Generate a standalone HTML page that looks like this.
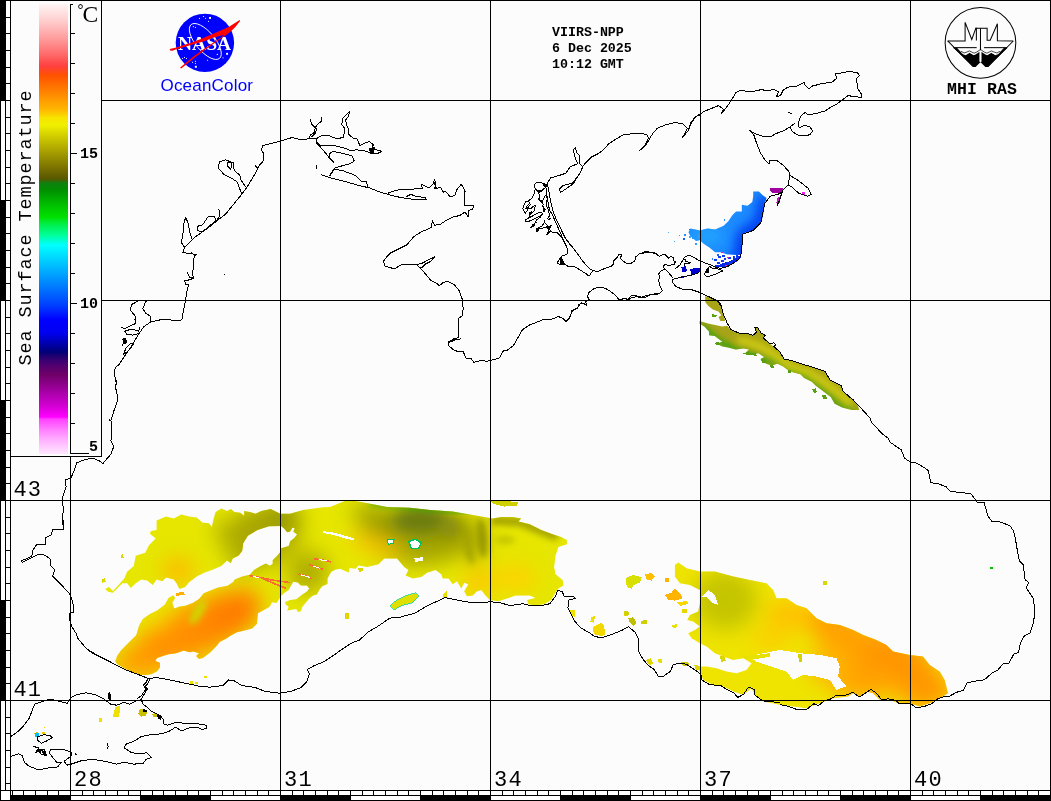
<!DOCTYPE html>
<html><head><meta charset="utf-8"><title>SST</title>
<style>
html,body{margin:0;padding:0;background:#fcfcfc;overflow:hidden}
svg{display:block;position:absolute;left:0;top:0}
text{font-family:"Liberation Mono",monospace;fill:#000}
.sans{font-family:"Liberation Sans",sans-serif}
.serif{font-family:"Liberation Serif",serif}
</style></head><body>
<svg width="1051" height="801" viewBox="0 0 1051 801">
<defs><linearGradient id="lg" x1="0" y1="4" x2="0" y2="454" gradientUnits="userSpaceOnUse"><stop offset="0.0000" stop-color="#fff4f4"/><stop offset="0.0356" stop-color="#ffd0d0"/><stop offset="0.0800" stop-color="#ff9898"/><stop offset="0.1133" stop-color="#ff6868"/><stop offset="0.1378" stop-color="#ff4040"/><stop offset="0.1578" stop-color="#ff5000"/><stop offset="0.2022" stop-color="#ff8c00"/><stop offset="0.2356" stop-color="#ffb800"/><stop offset="0.2533" stop-color="#f8e400"/><stop offset="0.2689" stop-color="#f0f000"/><stop offset="0.2911" stop-color="#d4d000"/><stop offset="0.3244" stop-color="#aca400"/><stop offset="0.3689" stop-color="#746c00"/><stop offset="0.3889" stop-color="#585800"/><stop offset="0.3978" stop-color="#108010"/><stop offset="0.4133" stop-color="#009000"/><stop offset="0.4467" stop-color="#00c000"/><stop offset="0.4733" stop-color="#00e000"/><stop offset="0.4911" stop-color="#00f050"/><stop offset="0.5133" stop-color="#00ff98"/><stop offset="0.5356" stop-color="#00ffff"/><stop offset="0.5689" stop-color="#00d0ff"/><stop offset="0.6022" stop-color="#00a0ff"/><stop offset="0.6356" stop-color="#0070ff"/><stop offset="0.6689" stop-color="#0040ff"/><stop offset="0.7022" stop-color="#0000ff"/><stop offset="0.7311" stop-color="#0000f0"/><stop offset="0.7533" stop-color="#0000b0"/><stop offset="0.7733" stop-color="#000078"/><stop offset="0.7822" stop-color="#200070"/><stop offset="0.8022" stop-color="#500070"/><stop offset="0.8244" stop-color="#700068"/><stop offset="0.8578" stop-color="#a000a0"/><stop offset="0.8911" stop-color="#d000d0"/><stop offset="0.9178" stop-color="#ff00ff"/><stop offset="0.9222" stop-color="#ff40ff"/><stop offset="0.9467" stop-color="#ff80ff"/><stop offset="0.9689" stop-color="#ffb0ff"/><stop offset="0.9911" stop-color="#ffd8ff"/><stop offset="1.0000" stop-color="#ffe8ff"/></linearGradient></defs>
<rect x="0" y="0" width="1051" height="801" fill="#fcfcfc"/>
<g id="sst" shape-rendering="crispEdges">
<defs>
<filter id="b6" x="-50%" y="-50%" width="200%" height="200%"><feGaussianBlur stdDeviation="6"/></filter>
<filter id="b10" x="-50%" y="-50%" width="200%" height="200%"><feGaussianBlur stdDeviation="10"/></filter>
<filter id="b3" x="-50%" y="-50%" width="200%" height="200%"><feGaussianBlur stdDeviation="3"/></filter>
<clipPath id="csw"><polygon points="105.2,589.0 109.0,587.1 112.8,590.9 118.5,585.1 124.3,578.5 127.1,571.8 133.8,566.1 135.7,555.7 145.2,552.8 149.0,545.2 155.7,538.5 149.9,533.8 150.9,530.9 156.6,530.0 156.6,520.4 166.1,516.6 173.7,518.5 181.3,514.4 189.0,516.6 196.6,517.6 202.3,522.4 208.9,523.3 211.8,527.1 213.7,518.5 215.6,511.9 221.3,508.6 227.0,510.9 230.8,509.0 234.6,511.9 240.3,512.8 244.1,515.7 244.1,510.9 249.8,511.9 255.6,513.8 261.3,510.9 270.8,509.0 280.3,513.8 290.0,513.8 303.1,510.0 323.1,507.3 330.0,507.1 347.1,500.0 358.5,501.4 372.8,504.3 387.1,507.1 409.9,507.7 429.9,510.0 452.7,511.4 472.7,515.1 484.1,517.1 492.7,518.5 501.3,517.1 512.7,517.1 521.2,518.5 518.4,521.4 529.8,524.3 541.2,530.0 552.6,534.2 561.2,537.1 566.9,540.0 566.9,544.2 558.4,547.1 555.5,555.7 554.1,567.1 555.5,574.2 562.6,579.9 563.5,585.6 558.4,588.5 555.5,592.8 551.2,599.9 544.1,604.2 535.5,605.6 528.4,604.2 527.0,599.9 535.5,597.9 529.8,595.6 515.5,595.6 507.0,598.5 498.4,601.3 489.8,599.9 485.6,595.6 481.3,589.9 477.0,591.3 472.7,595.6 467.0,596.2 464.2,591.3 468.4,584.2 464.2,582.8 461.3,588.5 457.0,581.3 452.7,584.2 448.5,578.5 442.7,578.5 441.3,574.2 435.6,569.9 427.1,572.8 421.3,577.1 412.8,578.5 405.6,575.6 408.5,569.9 404.2,567.1 397.1,558.5 384.2,558.5 378.5,564.2 367.1,567.1 358.5,565.6 355.7,568.7 349.6,568.0 348.8,572.5 345.0,571.0 340.5,568.7 335.9,569.5 331.3,571.8 329.1,575.6 327.5,578.6 327.5,583.9 322.2,586.2 319.2,590.0 316.9,594.6 313.1,595.4 309.3,598.4 305.5,603.0 302.4,606.8 300.9,611.3 297.8,612.1 296.3,609.1 291.8,609.8 287.2,610.6 288.7,606.8 285.7,604.5 284.9,602.2 290.2,599.9 296.3,599.2 302.4,594.6 307.0,591.6 309.3,588.5 307.0,585.5 300.9,585.5 297.8,582.4 293.3,581.7 291.0,585.5 288.7,590.0 284.1,593.1 281.1,596.1 278.1,600.7 276.5,603.0 272.0,602.2 269.7,606.8 264.4,609.8 257.9,613.3 257.0,623.8 252.2,628.5 244.6,630.4 237.0,632.3 231.3,635.2 225.6,639.0 219.9,641.8 216.1,646.6 210.4,652.3 206.6,655.2 202.8,658.0 199.0,659.0 196.1,656.1 199.0,653.3 193.2,651.4 189.4,652.3 183.7,650.4 176.1,653.3 168.5,654.2 162.8,656.1 157.1,658.0 155.2,660.9 159.9,662.8 159.9,667.5 157.1,671.3 151.4,674.2 145.7,675.1 140.0,675.1 132.4,672.3 124.7,668.5 118.1,664.7 115.2,661.8 117.1,656.1 120.9,650.4 128.5,642.8 136.2,635.2 139.0,625.7 142.8,619.0 149.5,614.3 157.1,610.4 164.7,604.7 168.5,598.1 173.3,595.2 175.2,598.1 172.3,602.8 174.2,608.5 179.9,606.6 185.6,605.7 193.2,602.8 199.0,599.0 203.7,593.3 210.4,590.5 218.0,587.6 227.5,585.7 233.2,581.9 234.6,579.4 242.2,576.6 249.8,574.7 253.7,570.2 259.8,566.4 265.9,563.4 269.7,565.7 272.7,564.1 272.7,560.3 276.5,556.5 280.3,552.0 281.1,548.2 288.7,545.9 290.2,541.3 294.0,538.3 297.1,534.5 293.3,531.4 294.8,528.4 292.5,527.6 290.2,531.4 287.2,532.2 284.1,528.4 281.1,526.1 268.9,526.2 257.5,530.0 247.9,535.7 243.2,543.3 242.2,550.9 238.4,555.7 232.7,558.5 230.8,563.3 227.0,560.4 221.3,566.1 211.8,569.9 204.2,572.8 196.6,576.6 192.8,579.4 189.0,582.3 185.1,587.1 179.4,589.0 176.6,583.2 173.7,579.4 166.1,577.5 162.3,581.3 156.6,579.4 152.8,585.1 147.1,580.4 141.4,579.4 135.7,583.2 130.9,588.0 127.1,583.2 122.4,583.2 116.6,589.0 112.8,592.8 108.1,591.8"/></clipPath>
<clipPath id="cse"><polygon points="674.9,565.0 678.3,562.6 686.6,568.3 699.9,571.6 714.9,571.6 733.2,576.6 749.9,580.0 766.5,583.3 773.2,590.0 776.5,598.3 786.5,598.3 796.5,604.9 806.5,608.3 816.5,618.3 826.5,623.3 839.8,624.9 853.1,629.9 863.1,634.9 876.4,639.9 886.4,644.9 893.1,651.6 909.7,654.9 923.0,656.6 929.7,664.9 939.7,671.5 944.7,679.9 948.0,693.2 939.7,698.2 929.7,703.2 919.7,706.5 909.7,703.2 898.0,703.2 889.7,699.8 879.7,699.8 873.1,693.2 866.4,691.5 859.8,696.5 853.1,693.2 848.1,696.5 833.1,698.2 819.8,703.2 806.5,708.2 793.1,706.5 779.8,704.8 763.2,701.5 754.9,694.9 751.5,688.2 743.2,694.9 733.2,691.5 723.2,686.5 713.2,684.9 703.2,679.9 699.9,671.5 694.9,666.5 706.6,666.5 716.6,668.2 726.5,671.5 736.5,673.2 746.5,669.9 751.5,663.2 743.2,658.2 733.2,659.9 723.2,656.6 714.9,653.2 706.6,646.6 699.9,643.2 691.6,638.2 688.2,633.2 694.9,629.9 699.9,626.6 693.2,621.6 687.3,619.9 689.9,614.9 698.2,611.6 699.9,603.3 699.9,590.0 689.9,585.0 679.9,583.3 674.9,576.6"/></clipPath>
<clipPath id="cst"><polygon points="705.2,296.2 709.0,297.1 717.6,300.9 721.4,306.6 723.3,314.2 725.2,320.9 720.4,320.9 718.5,317.1 721.4,315.2 718.5,311.4 712.8,309.5 708.1,305.7 705.2,301.9"/><polygon points="699.5,320.9 709.0,323.7 722.4,326.6 727.1,325.7 730.9,329.5 739.5,333.3 747.1,333.3 752.8,335.2 756.6,332.3 754.7,327.6 757.6,327.6 761.4,333.3 765.2,335.2 763.3,338.0 769.9,343.7 779.4,351.3 784.2,359.0 792.8,360.9 804.2,364.7 813.7,367.5 825.1,371.3 829.9,379.9 841.3,385.6 843.2,391.3 851.8,398.9 857.5,404.6 859.4,410.0 851.8,410.0 842.2,407.5 834.6,403.7 830.8,397.0 823.2,391.3 815.6,385.6 811.8,381.8 804.2,378.0 800.4,374.2 792.8,372.3 787.1,369.4 783.2,366.6 777.5,363.7 771.8,365.6 766.1,363.7 760.4,359.0 764.2,357.1 758.5,353.2 752.8,354.2 745.2,353.2 749.0,349.4 743.3,348.5 735.7,349.4 728.1,347.5 722.4,346.6 716.6,343.7 722.4,341.8 714.7,336.1 709.0,335.2 709.0,331.4 704.3,326.6 699.5,323.7"/></clipPath>
<clipPath id="caz"><polygon points="753.2,191.4 758.9,191.4 762.7,195.2 766.5,198.1 764.6,204.7 762.7,217.1 759.9,223.7 753.2,230.4 743.7,233.3 742.7,235.2 741.8,251.3 741.0,255.1 734.2,254.8 726.6,254.2 720.9,252.3 715.1,252.3 709.4,247.5 703.7,243.7 699.9,239.9 696.1,240.9 690.4,236.1 688.5,232.3 690.4,228.5 699.9,230.4 707.5,228.5 715.1,229.5 723.7,225.7 728.5,220.9 732.3,215.2 736.1,211.4 741.8,211.4 741.8,204.7 747.5,205.7 752.3,201.9 753.2,196.2"/></clipPath>
</defs>
<g clip-path="url(#csw)">
<rect x="90" y="495" width="520" height="200" fill="#e6e600"/>
<g filter="url(#b10)">
<ellipse cx="262" cy="535" rx="42" ry="30" fill="#a8a600" transform="rotate(-25 262 535)"/>
<ellipse cx="285" cy="512" rx="14" ry="8" fill="#808800"/>
<ellipse cx="232" cy="548" rx="9" ry="34" fill="#b4b200" transform="rotate(-28 232 548)"/>
<ellipse cx="418" cy="535" rx="58" ry="30" fill="#a6a600"/>
<ellipse cx="422" cy="522" rx="38" ry="15" fill="#7c8808"/>
<ellipse cx="370" cy="513" rx="20" ry="8" fill="#a0a000"/>
<ellipse cx="476" cy="540" rx="9" ry="24" fill="#b0ae00"/>
<ellipse cx="308" cy="572" rx="20" ry="22" fill="#b0ae00" transform="rotate(30 308 572)"/>
<ellipse cx="185" cy="635" rx="70" ry="26" fill="#ffa400" transform="rotate(-30 185 635)"/>
<ellipse cx="215" cy="622" rx="52" ry="24" fill="#ff8800" transform="rotate(-30 215 622)"/>
<ellipse cx="235" cy="614" rx="22" ry="18" fill="#ff7c00"/>
<ellipse cx="165" cy="645" rx="36" ry="18" fill="#ff9000" transform="rotate(-30 165 645)"/>
<ellipse cx="140" cy="663" rx="26" ry="14" fill="#ff9c00"/>
<ellipse cx="155" cy="620" rx="10" ry="8" fill="#f4dc00"/>
<ellipse cx="178" cy="570" rx="16" ry="12" fill="#ffb800"/>
<ellipse cx="375" cy="545" rx="28" ry="7" fill="#ffc400" transform="rotate(15 375 545)"/>
<ellipse cx="478" cy="582" rx="14" ry="12" fill="#ffc400"/>
<ellipse cx="515" cy="578" rx="22" ry="12" fill="#ffd000"/>
</g>
<g filter="url(#b3)"><ellipse cx="198" cy="612" rx="5" ry="14" fill="#d0d400" transform="rotate(32 198 612)"/>
<polyline points="491,520 520,522 535,528 558,537" stroke="#a4a400" stroke-width="9" fill="none"/>
<ellipse cx="468" cy="545" rx="4" ry="20" fill="#a4a400" transform="rotate(-12 468 545)"/>
<ellipse cx="482" cy="538" rx="5" ry="20" fill="#989800" transform="rotate(-5 482 538)"/>
<ellipse cx="505" cy="540" rx="10" ry="4" fill="#c4c400"/>
</g>
<g filter="url(#b6)"><ellipse cx="420" cy="520" rx="24" ry="9" fill="#6c7c10"/><ellipse cx="450" cy="528" rx="10" ry="10" fill="#8c9008"/></g>
<g filter="url(#b3)"><polyline points="370,503 420,508 470,511" stroke="#00a000" stroke-width="3" fill="none"/></g>
</g>
<polygon points="408.5,541.4 415.6,539.1 421.3,542.8 418.5,548.5 411.4,548.5" fill="#fcfcfc" stroke="#00c060" stroke-width="1.5"/>
<polygon points="414.2,558.5 422.8,557.1 422.8,560.8 415.6,561.9" fill="#fcfcfc"/>
<polygon points="387.1,540.0 394.2,539.1 393.4,543.7 388.5,544.2" fill="#fcfcfc" stroke="#00c060" stroke-width="1"/>
<polygon points="323.0,531.0 331.3,532.2 343.5,535.2 354.2,538.6 354.5,540.1 346.6,539.0 334.4,535.2 323.4,532.9" fill="#fcfcfc"/>
<polyline points="313.8,558.8 322.2,559.9 331.3,561.9" stroke="#ff6a30" stroke-width="1.6" fill="none"/>
<polyline points="309.3,564.9 316.1,566.9 323.0,569.5" stroke="#ff6a30" stroke-width="1.6" fill="none"/>
<polyline points="298.6,574.0 305.5,575.6 311.6,578.6" stroke="#ff6a30" stroke-width="1.6" fill="none"/>
<polyline points="249.1,575.6 258.3,577.1 270.4,579.7 290.2,582.7" stroke="#ff6a30" stroke-width="1.6" fill="none"/>
<polyline points="262.8,578.6 275.0,583.9 285.7,588.2" stroke="#ff6a30" stroke-width="1.6" fill="none"/>
<polyline points="319.2,559.6 326.8,560.8" stroke="#fcfcfc" stroke-width="1.2" fill="none"/>
<polyline points="313.1,566.1 319.9,568.3" stroke="#fcfcfc" stroke-width="1.2" fill="none"/>
<polyline points="300.9,574.8 310.0,577.5" stroke="#fcfcfc" stroke-width="1.2" fill="none"/>
<polyline points="252.9,576.6 259.0,577.5" stroke="#fcfcfc" stroke-width="1.2" fill="none"/>
<polygon points="489.8,500.0 501.3,500.8 518.4,502.0 517.0,505.7 504.1,506.6 492.7,503.7" fill="#d0d000"/>
<polygon points="389.9,605.6 397.1,599.9 405.6,595.6 415.6,592.8 419.1,596.2 412.8,602.7 401.4,605.6 394.2,609.9" fill="#e0e000" stroke="#00d0a0" stroke-width="0.7"/>
<rect x="345" y="613" width="4" height="6" fill="#e0d000"/>
<polygon points="442.7,594.2 446.5,591.3 447.6,597.9 443.6,598.5" fill="#e8e000"/>
<polygon points="569.8,609.9 574.9,609.9 574.9,617.0 571.2,615.6" fill="#f0e000"/>
<polygon points="591.2,617.0 594.9,615.6 594.0,622.7 590.3,621.9" fill="#f0e000"/>
<polygon points="592.6,627.0 601.2,622.7 605.5,631.3 601.2,636.1 594.0,634.1" fill="#f4d800"/>
<polygon points="625.4,578.5 630.0,578.5 630.0,588.5 626.9,587.1" fill="#e8e000"/>
<polygon points="624.0,611.3 628.3,612.2 627.4,616.2 624.0,615.6" fill="#e0d800"/>
<polygon points="101.7,579.2 105.0,578.2 105.7,581.6 102.3,582.6" fill="#d8d800"/>
<polygon points="120.6,554.9 123.3,554.3 123.6,557.9 121.0,558.6" fill="#d8d800"/>
<polygon points="175.9,593.2 183.9,591.6 184.6,594.6 176.6,595.9" fill="#ffb000"/>
<polygon points="358.1,568.3 362.4,567.3 363.1,570.9 359.1,571.9" fill="#d8d800"/>
<polygon points="345.8,614.9 349.1,613.9 349.4,619.2 346.4,619.2" fill="#e0d800"/>
<g clip-path="url(#cse)">
<rect x="660" y="555" width="300" height="160" fill="#efe400"/>
<g filter="url(#b10)">
<ellipse cx="725" cy="600" rx="32" ry="30" fill="#c4c400"/>
<ellipse cx="890" cy="660" rx="55" ry="26" fill="#ff9400" transform="rotate(28 890 660)"/>
<ellipse cx="840" cy="630" rx="40" ry="20" fill="#ffa000" transform="rotate(28 840 630)"/>
<ellipse cx="925" cy="690" rx="28" ry="18" fill="#ff9800"/>
<ellipse cx="865" cy="682" rx="36" ry="16" fill="#ffa200"/>
<ellipse cx="830" cy="665" rx="22" ry="18" fill="#ffb400"/>
<ellipse cx="790" cy="615" rx="25" ry="14" fill="#ffc000"/>
<ellipse cx="770" cy="640" rx="20" ry="8" fill="#ffc800"/>
</g>
</g>
<polygon points="754.9,654.9 766.5,652.6 779.8,649.9 799.8,653.2 819.8,654.9 836.4,658.2 839.8,666.5 838.1,676.5 846.4,686.5 836.4,689.9 829.8,679.9 816.5,676.5 803.1,674.9 793.1,679.9 786.5,671.5 776.5,668.2 766.5,664.9 756.5,661.6 751.5,658.2" fill="#fcfcfc"/>
<polygon points="708.2,590.0 714.9,594.9 718.2,604.9 713.2,603.3 706.6,597.3 701.6,596.6" fill="#fcfcfc"/>
<polygon points="798.1,653.9 802.1,653.9 802.5,662.5 798.8,661.6" fill="#d8d000"/>
<polygon points="741.5,656.6 756.5,654.9 769.8,653.2 770.5,656.6 758.2,658.6 746.5,659.2" fill="#e8e000"/>
<polygon points="719.2,656.6 723.9,655.9 725.9,660.6 721.6,661.9" fill="#d8d800"/>
<polygon points="626.6,577.3 633.3,575.0 641.6,577.3 640.0,582.6 633.3,585.0 631.6,589.3 629.3,586.6 626.0,580.6" fill="#d8e000"/>
<polygon points="645.0,574.6 651.6,572.6 654.9,576.6 651.6,580.6 646.6,579.3" fill="#ffc000"/>
<polygon points="664.9,594.9 671.6,592.6 674.9,588.3 679.9,593.3 682.6,598.3 674.9,600.6 668.3,599.9" fill="#ffb400"/>
<polygon points="676.6,602.6 687.3,600.9 688.2,603.9 679.9,605.9" fill="#f8d800"/>
<polygon points="665.3,578.3 669.3,578.3 669.3,581.6 665.3,581.6" fill="#ffb400"/>
<polygon points="681.6,609.3 686.6,609.3 686.6,613.3 682.3,613.3" fill="#e8d800"/>
<polygon points="624.0,611.6 628.3,610.9 629.0,614.9 625.0,615.6" fill="#d0d000"/>
<polygon points="628.3,618.3 633.3,617.3 636.6,623.3 633.3,625.9 629.3,622.3" fill="#c0c000"/>
<polygon points="640.6,620.9 646.6,619.9 647.6,623.3 641.6,624.6" fill="#d0d000"/>
<polygon points="600.0,623.3 604.0,624.9 605.0,634.9 600.0,636.6" fill="#f0d800"/>
<polygon points="646.0,659.9 650.6,658.2 653.3,663.2 649.3,665.9" fill="#e0d800"/>
<polygon points="658.3,659.2 661.9,659.2 661.9,663.2 658.6,663.2" fill="#e8e000"/>
<polygon points="680.9,662.5 688.2,661.9 689.2,665.2 683.3,665.9" fill="#d0c800"/>
<polygon points="822.8,581.3 826.8,581.3 826.8,584.6 822.8,584.6" fill="#d8d800"/>
<polygon points="671.9,624.9 676.6,624.3 677.3,627.3 672.6,627.9" fill="#e8e000"/>
<polygon points="694.2,664.9 699.9,665.9 700.6,670.5 695.9,669.9" fill="#e0d800"/>
<g clip-path="url(#cst)">
<rect x="695" y="290" width="180" height="125" fill="#a8a418"/>
<g filter="url(#b3)">
<polyline points="701.4,325.7 716.6,339.9 728.1,346.6 745.2,352.3 760.4,358.0 777.5,363.1 792.8,371.9 804.2,377.6 815.6,385.2 830.8,397.0 842.2,406.9 853.7,410.3" stroke="#20a010" stroke-width="5" fill="none"/>
<polyline points="737.6,339.9 756.6,344.7 771.8,353.2 789.0,365.6 808.0,372.3 823.2,381.8 838.4,393.2 851.8,404.6" stroke="#d0cc10" stroke-width="7" fill="none"/>
</g>
</g>
<polygon points="714.7,342.8 718.5,341.8 720.4,344.7 716.6,345.6" fill="#58a010"/>
<polygon points="742.3,353.2 747.1,352.3 755.7,353.2 756.6,355.7 747.1,355.1" fill="#58a010"/>
<polygon points="760.4,359.0 764.2,358.6 766.1,362.8 762.3,362.8" fill="#58a010"/>
<polygon points="769.9,365.0 773.3,364.7 773.7,367.5 770.9,368.1" fill="#58a010"/>
<polygon points="811.8,389.0 815.6,388.4 817.1,392.3 813.7,392.8" fill="#58a010"/>
<polygon points="821.3,394.7 825.5,394.7 827.4,398.5 823.2,398.5" fill="#58a010"/>
<polygon points="711.9,314.2 716.6,314.8 716.3,317.1 712.5,316.7" fill="#58a010"/>
<polygon points="788.0,370.4 790.9,370.4 790.9,372.7 788.4,372.7" fill="#58a010"/>
<g clip-path="url(#caz)">
<rect x="680" y="185" width="100" height="90" fill="#1c8cff"/>
<g filter="url(#b6)">
<polyline points="765.6,197.1 763.1,217.1 757.0,227.6 745.6,233.3 741.8,241.8 741.8,259.0 726.6,266.6" stroke="#0038f0" stroke-width="14" fill="none"/>
<ellipse cx="707" cy="236" rx="16" ry="8" fill="#20a4ff"/>
</g>
</g>
<rect x="717.1" y="254.2" width="1.9" height="1.9" fill="#1c60ff"/>
<rect x="722.8" y="255.1" width="1.9" height="2.0" fill="#1050ff"/>
<rect x="721.8" y="259.9" width="1.9" height="1.9" fill="#1040f0"/>
<rect x="715.0" y="264.5" width="2.2" height="2.3" fill="#0020e0"/>
<rect x="728.5" y="261.8" width="1.9" height="1.9" fill="#0030f0"/>
<rect x="733.2" y="258.0" width="1.9" height="1.9" fill="#0838f0"/>
<rect x="737.0" y="256.1" width="1.9" height="1.9" fill="#0838f0"/>
<rect x="711.7" y="258.4" width="1.2" height="1.1" fill="#2080ff"/>
<rect x="707.1" y="258.5" width="0.9" height="0.9" fill="#30a0ff"/>
<rect x="683.7" y="234.2" width="2.0" height="1.9" fill="#2090ff"/>
<rect x="678.6" y="234.8" width="1.5" height="1.5" fill="#30a0ff"/>
<rect x="683.0" y="238.2" width="1.5" height="1.5" fill="#1060ff"/>
<rect x="692.3" y="237.1" width="1.9" height="1.9" fill="#2898ff"/>
<rect x="689.3" y="236.3" width="1.5" height="1.5" fill="#38a8ff"/>
<rect x="688.7" y="228.7" width="1.5" height="1.5" fill="#8040c0"/>
<rect x="673.8" y="241.0" width="0.9" height="0.9" fill="#40b0ff"/>
<rect x="670.6" y="235.2" width="0.8" height="0.7" fill="#40b0ff"/>
<rect x="668.1" y="231.9" width="0.8" height="0.8" fill="#40b0ff"/>
<rect x="687.2" y="247.5" width="0.7" height="0.8" fill="#40b0ff"/>
<rect x="723.9" y="219.2" width="1.5" height="1.5" fill="#2890ff"/>
<rect x="734.4" y="212.5" width="1.5" height="1.5" fill="#2890ff"/>
<rect x="695.4" y="243.0" width="1.5" height="1.5" fill="#30a0ff"/>
<rect x="698.2" y="236.3" width="1.5" height="1.5" fill="#30a0ff"/>
<polygon points="715.7,265.3 720.4,264.5 723.3,263.1 729.0,261.5 732.8,259.9 735.6,258.3 739.9,255.5 741.5,257.1 738.5,260.5 733.7,263.5 728.0,266.2 721.4,267.4 716.6,266.9" fill="#0828e8"/>
<rect x="722.0" y="254.9" width="2.5" height="2.5" fill="#1038f0"/>
<rect x="714.4" y="258.7" width="2.5" height="2.5" fill="#1038f0"/>
<rect x="721.1" y="259.6" width="2.5" height="2.5" fill="#1038f0"/>
<rect x="728.2" y="256.6" width="2.5" height="2.5" fill="#1038f0"/>
<rect x="723.9" y="257.5" width="2.5" height="2.5" fill="#1038f0"/>
<rect x="718.2" y="255.6" width="2.5" height="2.5" fill="#1038f0"/>
<rect x="732.5" y="255.5" width="2.5" height="2.5" fill="#1038f0"/>
<rect x="729.2" y="262.3" width="2.5" height="2.5" fill="#1038f0"/>
<rect x="717.3" y="261.8" width="2.5" height="2.5" fill="#1038f0"/>
<rect x="735.8" y="255.2" width="2.5" height="2.5" fill="#1038f0"/>
<rect x="720.6" y="252.1" width="2" height="1" fill="#e020c0"/>
<rect x="727.3" y="256.6" width="2" height="1" fill="#e020c0"/>
<rect x="725.4" y="264.8" width="2" height="1" fill="#e020c0"/>
<polygon points="770.3,188.5 782.7,188.2 783.3,190.8 780.8,192.7 772.2,192.7 770.0,190.8" fill="#a000a0"/>
<polygon points="777.6,197.1 780.2,197.1 779.5,202.8 777.2,206.1 776.4,202.8" fill="#d010d0"/>
<rect x="802" y="192" width="3" height="3" fill="#f020f0"/>
<polygon points="681.3,267.5 685.7,265.6 687.0,271.3 682.8,272.7" fill="#0000d0"/>
<polygon points="690.4,269.4 695.2,267.5 699.9,267.5 699.9,272.3 695.2,273.8 690.8,275.1" fill="#0000d0"/>
<polygon points="680.9,276.1 683.7,275.5 683.7,277.6 681.3,278.0" fill="#0000d0"/>
<rect x="990" y="567" width="3" height="2" fill="#00c000"/>
<polygon points="115.6,707.1 119.4,705.2 120.0,710.9 118.5,716.6 112.8,717.6 113.7,712.8" fill="#f0e000"/>
<polygon points="99.1,718.5 101.9,718.1 101.9,721.6 99.1,721.6" fill="#f0e000"/>
<polygon points="139.0,709.9 143.2,708.6 147.0,711.3 146.1,715.7 141.3,716.6 138.4,713.7" fill="#c8c000"/>
<polygon points="152.3,713.7 156.9,713.2 157.7,716.6 153.1,717.4" fill="#c8c000"/>
<polygon points="34.4,732.8 38.2,732.2 38.2,736.6 34.7,737.2" fill="#e0c800"/>
<polygon points="42.0,732.2 44.6,732.2 44.6,734.1 42.0,734.1" fill="#e0d000"/>
<polygon points="189.8,681.4 193.1,681.4 193.1,684.3 190.2,684.3" fill="#f0e000"/>
<polygon points="195.0,682.0 198.0,682.0 198.0,684.3 195.3,684.3" fill="#f0e000"/>
<polygon points="203.7,675.7 206.8,675.7 206.8,677.8 204.1,677.8" fill="#f0e000"/>
<polygon points="43.9,726.9 45.0,726.9 45.0,728.0 43.9,728.0" fill="#f0e000"/>
<rect x="35" y="733" width="4" height="4" fill="#00c0ff"/>
</g>
<g id="coast" stroke="#000" stroke-width="1" fill="none" stroke-linejoin="round" shape-rendering="crispEdges">
<polyline points="300.0,139.4 292.2,137.5 280.8,140.9 271.3,143.4 262.7,145.7 261.4,149.9 264.0,154.2 263.7,160.5 258.3,166.6 257.0,170.4 250.3,181.8 246.5,187.9 241.8,194.2 233.2,204.7 225.6,214.2 218.0,219.9 206.6,229.0 195.1,237.0 184.7,247.5" fill="none"/>
<polyline points="241.8,194.2 237.0,181.8 231.3,178.0 223.7,174.2 218.0,167.6 219.5,161.8 225.6,159.9 233.2,162.8 234.2,170.4 239.9,175.2 240.8,179.9 246.5,187.9" fill="none"/>
<polygon points="227.1,162.8 231.3,162.8 230.9,169.5 227.9,166.6" fill="none"/>
<polygon points="185.6,217.6 188.5,223.7 189.4,231.3 192.3,239.9 184.7,247.5 181.4,242.7 183.3,231.3 183.7,223.7" fill="none"/>
<polygon points="197.1,226.5 202.8,224.6 208.5,216.1 214.2,216.1 216.1,220.8 208.5,226.5 202.8,231.7 198.0,230.9" fill="none"/>
<polyline points="218.9,209.4 219.9,216.1 217.0,219.9" fill="none"/>
<polyline points="255.1,165.7 257.9,168.5" fill="none"/>
<polyline points="184.7,246.7 182.8,252.4 189.4,253.7 196.1,254.3 193.2,259.0 193.2,268.5 192.3,275.2 194.2,278.1 188.5,280.0 184.7,280.0 185.3,284.1 188.5,284.7 186.6,293.3 184.7,304.7 182.8,314.2 181.8,319.9 177.1,320.9 163.7,319.0 150.4,322.2 143.8,326.6 138.1,335.1 132.4,344.7 124.7,356.1 119.0,364.6 115.2,367.5 114.3,373.2 116.2,382.7 115.6,390.0" fill="none"/>
<polyline points="150.4,322.2 150.4,316.1 145.7,313.3 142.8,308.5 145.7,301.8 147.6,300.9" fill="none"/>
<polyline points="138.1,300.9 131.4,304.7 130.4,310.4 135.2,316.1 135.2,323.7 124.7,328.5 120.6,327.5" fill="none"/>
<polygon points="124.7,331.3 130.4,329.4 138.1,330.4 140.0,333.2 132.4,335.1 126.6,334.2" fill="none"/>
<polygon points="123.8,354.2 125.7,348.5 130.4,343.7 133.9,342.8 131.4,347.5 126.6,352.3" fill="none"/>
<polygon points="122.8,339.0 125.7,338.0 126.6,342.8 123.8,343.7" fill="#000"/>
<polyline points="121.9,345.6 123.8,342.8" fill="none"/>
<polyline points="187.5,272.4 189.4,277.1 193.2,278.1" fill="none"/>
<polyline points="191.3,252.4 195.1,256.2" fill="none"/>
<polyline points="224.1,274.3 225.6,275.2" fill="none"/>
<polyline points="139.0,326.6 140.0,330.4" fill="none"/>
<polyline points="134.3,319.0 135.8,321.8" fill="none"/>
<polyline points="116.6,380.0 115.6,387.6 118.1,399.0 114.7,408.5 110.9,420.0 111.8,431.4 110.9,440.9 113.7,446.6 110.9,454.2 104.2,461.8 103.2,463.7 99.4,460.9 92.8,458.0 84.2,459.9 76.6,462.8 74.7,469.4 70.9,478.0 65.2,479.9 66.1,486.6 62.3,498.0 63.3,509.4 62.3,520.8 63.7,530.0" fill="none"/>
<polyline points="108.6,419.6 110.9,420.7" fill="none"/>
<polyline points="63.7,520.0 63.3,529.5 52.8,529.5 50.9,535.2 45.2,538.1 45.2,544.7 36.6,544.7 32.8,550.4 31.9,556.2 21.4,560.9 22.4,562.2 32.8,557.1 38.5,554.3 45.2,555.2 50.0,559.0 50.9,565.7 54.7,569.5 52.8,576.1 59.5,582.8 69.9,594.2 72.8,601.8 73.7,612.3 69.0,613.2 69.4,619.0 71.8,626.6 76.6,634.2 77.6,638.0 86.1,648.4 93.7,653.2 113.7,663.7 126.1,670.0" fill="none"/>
<polyline points="88.0,650.0 93.7,653.8 113.7,663.7 126.1,670.0 141.3,675.7 148.0,678.5 156.5,677.6 167.9,679.5 181.3,682.4 190.8,684.3 200.3,686.5 210.0,687.1" fill="none"/>
<polyline points="148.0,678.5 146.1,682.4 143.2,685.2 146.1,689.0 141.3,695.7 137.5,698.5" fill="none"/>
<polyline points="149.9,678.5 148.0,683.3 145.5,686.2 147.4,689.0 143.2,695.7 141.3,699.9" fill="none"/>
<polyline points="10.0,737.0 17.6,731.8 23.3,726.1 29.0,718.5 34.7,704.2 42.4,701.4 50.9,699.1 59.5,701.4 67.1,703.3 70.9,697.6 76.6,694.7 86.1,692.8 95.6,694.7 103.2,698.5 107.1,701.4 110.9,704.2 116.6,705.2 124.2,702.3 129.9,704.2 137.5,700.4 141.3,699.9 143.2,704.2 147.0,707.1 150.8,710.9 156.5,713.7 160.3,715.7 163.2,719.5 164.1,724.2 167.9,725.2 175.6,722.3 185.1,723.3 192.7,723.3 200.3,724.2 206.0,725.2 207.0,728.0 202.2,729.5 196.5,727.1 188.9,728.0 181.3,730.9 175.6,727.1 169.8,730.9 162.2,733.7 150.8,734.7 141.3,736.6 133.7,741.3 126.1,744.2 124.2,748.0 131.8,752.8 139.4,753.7 147.0,752.8 151.8,757.5 146.1,759.4 143.2,763.2 133.7,764.2 124.2,762.3 116.6,764.2 105.1,761.3 93.7,759.4 82.3,760.4 70.9,764.2 67.1,765.1 64.2,761.3 69.0,757.5 71.8,755.6 70.9,751.8 61.4,749.0 50.9,749.0 49.0,752.8 52.8,757.5 56.6,762.3 61.4,762.3 57.6,767.0 48.1,768.0 38.5,769.9 29.0,766.1 24.3,762.3 22.4,755.6 18.6,753.7 10.0,756.9" fill="none"/>
<polygon points="37.6,736.6 44.3,734.7 50.0,735.6 52.2,737.5 46.2,741.3 41.4,743.2 37.6,740.4" fill="none"/>
<polyline points="32.8,746.1 38.5,748.0 35.7,752.8 40.4,749.0 45.2,749.9 43.3,753.7 46.2,755.6 40.4,753.7" fill="none"/>
<polyline points="108.0,692.8 109.9,700.4" fill="none"/>
<polyline points="109.0,692.2 110.9,699.9" fill="none"/>
<polyline points="107.1,743.2 108.2,746.1 107.1,749.0" fill="none"/>
<polyline points="74.7,753.7 77.0,754.7" fill="none"/>
<polyline points="143.2,709.9 146.1,710.9" fill="none"/>
<polyline points="157.5,714.7 160.3,719.5" fill="none"/>
<polyline points="209.9,687.1 222.8,685.6 228.5,679.9 234.3,680.8 241.9,685.6 255.2,687.5 264.7,691.3 279.9,693.2 291.3,691.3 300.9,687.5 306.6,681.8 309.4,674.2 307.5,669.4 314.2,665.6 323.7,661.8 335.1,654.2 344.6,647.5 352.2,642.8 359.8,639.9 367.5,632.3 378.9,625.7 388.4,619.0 394.1,617.1 400.0,617.1" fill="none"/>
<polyline points="399.9,617.2 414.7,613.2 424.3,607.5 433.8,602.8 445.2,597.6 454.7,599.5 466.1,601.8 477.5,602.8 490.9,601.8 500.4,602.8 509.9,605.6 523.2,603.7 530.8,605.6 540.3,606.0 549.8,603.7 555.6,596.1 557.5,590.4 562.2,591.4 564.1,596.1 572.7,596.1 575.5,598.4 568.9,599.9 567.9,607.5 570.8,613.2 574.6,620.9 580.3,627.5 590.0,633.2" fill="none"/>
<polyline points="589.9,633.5 594.3,636.1 600.9,638.0 612.4,634.2 621.9,630.4 628.5,626.6 635.2,632.3 639.0,639.9 638.6,651.3 642.8,659.0 648.5,665.6 654.2,669.4 658.0,676.1 663.7,676.1 670.4,671.3 673.2,664.7 679.0,663.1 686.6,664.3 694.2,669.4 700.8,674.2 701.8,679.9 709.4,684.6 720.8,685.6 726.5,689.4 734.1,693.2 737.9,697.4 743.7,694.2 748.4,687.1 754.1,689.4 755.1,695.1 762.7,700.8 780.0,702.7" fill="none"/>
<polyline points="779.9,704.6 789.0,706.5 796.6,709.4 807.1,709.0 813.8,703.7 818.5,705.6 824.2,700.8 830.9,698.9 836.6,695.1 846.1,695.1 852.8,692.3 859.4,697.0 865.1,693.2 870.9,689.4 876.6,693.2 881.3,699.5 888.0,698.9 895.6,700.3 899.4,703.7 910.8,703.7 916.5,707.9 924.1,706.5 931.8,703.7 937.5,698.9 943.2,697.0 948.9,696.5 956.5,692.3 963.5,690.4" fill="none"/>
<polyline points="963.7,690.0 967.1,682.7 974.7,681.2 984.2,679.9 991.8,673.2 997.5,670.4 1003.2,663.7 1008.9,663.3 1013.7,654.2 1018.5,652.3 1020.4,642.8 1024.2,636.1 1029.9,633.2 1033.7,621.8 1034.6,612.3 1033.7,599.0 1029.9,593.3 1026.1,587.6 1028.9,582.8 1025.1,579.6 1023.2,564.7 1019.4,560.9 1017.5,551.4 1015.6,540.0" fill="none"/>
<polyline points="1015.6,539.9 1013.7,531.3 1009.9,525.6 999.4,521.8 991.8,521.4 988.0,516.1 984.2,502.8 977.5,502.4 970.9,493.6 958.5,492.3 950.0,491.3 946.1,486.6 936.6,483.3 930.9,482.8 928.1,470.4 923.3,467.0 915.7,462.8 910.0,461.8 904.3,458.0 901.4,449.9 890.0,442.2 888.1,438.1 882.4,433.9 871.9,422.8 870.0,418.1 860.5,407.6 852.9,400.0" fill="none"/>
<polyline points="690.0,289.5 699.5,292.4 709.0,297.1 717.6,300.9 721.4,306.6 723.3,314.2 727.1,322.8 730.9,329.5 739.5,333.3 747.1,333.3 752.8,335.2 756.6,332.3 754.7,327.6 757.6,327.6 761.4,333.3 765.2,335.2 763.3,338.0 769.9,343.7 773.7,342.8 775.6,344.7 773.7,346.6 779.4,351.3 784.2,359.0 792.8,360.9 804.2,364.7 813.7,367.5 825.1,371.3 829.9,379.9 841.3,385.6 843.2,391.3 851.8,398.9 854.0,399.9" fill="none"/>
<polyline points="640.0,253.6 645.2,251.7 650.0,252.1 654.8,252.6 659.5,256.4 664.3,254.0 669.0,258.3 670.9,256.4 673.3,257.4 673.3,260.7 675.2,261.6 674.7,264.0 669.0,265.4 664.7,264.5 663.3,266.4 664.7,269.3 660.5,271.2 658.6,274.0 660.0,276.9 658.6,279.7 659.5,285.4 662.4,290.7 658.6,294.0 650.0,294.8 640.5,297.3 635.7,296.8 630.0,298.3 625.3,300.2 620.0,299.7" fill="none"/>
<polyline points="664.7,269.3 667.6,271.2 670.5,275.0 672.8,277.8" fill="none"/>
<polyline points="674.7,269.3 680.4,264.5 684.3,257.4 689.0,255.0 693.8,257.4 700.4,261.2 710.9,265.0 715.7,267.4 720.4,268.3 728.0,266.4 732.8,263.5 739.4,258.8 741.8,252.1 742.3,235.0" fill="none"/>
<polyline points="684.7,258.8 685.7,261.2 690.4,262.6 687.6,264.0 684.7,263.5 683.8,266.4" fill="none"/>
<polyline points="699.5,272.6 691.9,275.0 682.4,276.9 672.8,279.2 672.8,282.6 675.7,286.4 682.4,289.2 691.9,289.7 700.4,292.6 707.1,295.9 715.7,299.7 720.4,303.5 722.3,308.3" fill="none"/>
<polygon points="704.2,274.0 707.1,269.3 709.5,266.4 712.8,268.3 716.6,268.8 720.9,269.7 722.8,271.2 718.5,272.6 715.7,274.0 710.9,275.9 706.1,276.4" fill="none"/>
<polygon points="706.1,272.6 708.5,268.8 709.0,272.6" fill="#000"/>
<polyline points="742.7,235.2 742.7,234.2 753.2,230.4 760.8,222.8 764.6,203.8 770.3,196.2 777.9,194.3 781.8,192.4" fill="none"/>
<polyline points="781.8,192.4 779.8,200.0 777.0,205.7" fill="none"/>
<polyline points="789.4,175.2 798.9,180.9 808.4,188.5 811.2,194.3 807.4,196.2 798.9,193.3 791.3,186.6 787.5,184.7" fill="none"/>
<polyline points="690.0,125.2 695.7,116.6 705.2,110.9 718.5,105.6 723.3,109.0 721.4,113.7 728.1,105.2 731.9,99.5 735.7,92.8 740.4,90.3 750.9,91.9 761.4,89.6 768.0,90.9 773.7,89.4 778.5,91.9 776.6,96.6 780.4,95.7 783.2,90.0 788.0,87.1 796.6,86.2 804.2,82.4 805.1,85.2 808.9,89.0 811.8,86.2 823.2,83.3 831.8,82.4 836.5,78.5 835.6,73.8 842.2,72.8 848.9,71.3 857.5,72.8 859.4,75.7 856.5,78.5 857.5,88.1 861.3,93.8 861.3,97.6 855.6,96.6 847.9,95.7 842.2,99.9 836.5,104.2 830.8,107.1 825.1,110.9 815.6,113.7 808.0,114.7 805.1,112.4 800.4,116.6 798.1,123.3 799.4,128.0 804.2,125.2 809.9,127.1 812.7,130.9 809.9,134.7 804.2,136.0 796.6,134.7 791.8,130.9 789.9,127.1 794.7,123.3" fill="none"/>
<polyline points="789.9,127.1 783.2,130.9 775.6,133.7 771.8,136.0 762.3,136.0 754.7,133.7 749.9,130.3 753.7,134.7 756.6,143.2 760.4,152.8 765.2,160.4 769.0,164.2 769.9,160.4 776.6,160.4 783.2,165.1 789.0,171.8 789.9,175.6 788.0,185.1 783.2,189.9 781.3,194.6 779.4,200.0" fill="none"/>
<polyline points="788.0,112.4 791.8,113.7" fill="none"/>
<polyline points="700.0,115.2 696.0,116.2 691.2,121.9 688.4,130.4 682.7,137.1 685.5,132.4 687.4,128.5 682.7,123.8 675.1,122.5 665.6,124.7 657.0,128.5 652.2,134.3 648.4,140.9 644.6,146.6 638.9,151.0 644.6,145.7 648.4,138.1 646.5,134.3 638.9,133.3 631.3,133.9 623.7,134.6 616.1,139.0 608.5,144.1 602.8,150.4 597.1,154.2 591.3,157.1 585.6,162.8 582.8,166.6 579.9,173.3 576.1,179.0 573.3,183.7 566.6,188.5 560.9,192.3 559.0,189.4 562.8,185.6 573.3,182.8 576.1,178.0" fill="none"/>
<polyline points="578.0,163.7 575.2,158.0 573.3,150.4 575.2,147.6 577.1,153.3 579.9,156.1 579.0,162.8 582.8,166.6" fill="none"/>
<polyline points="578.0,163.7 570.4,166.6 565.7,173.3 557.1,176.1 550.4,178.0 547.6,182.8 546.6,187.5" fill="none"/>
<polyline points="547.1,183.3 548.5,189.0 550.4,200.4 553.3,211.9 557.1,221.4 560.9,229.0 565.7,238.5 570.4,245.0" fill="none"/>
<polyline points="545.7,186.2 546.6,192.8 548.0,202.4 549.5,210.0 552.3,214.7 556.1,223.3 559.9,231.8 562.8,238.5 565.7,245.0" fill="none"/>
<polyline points="547.1,185.2 541.9,182.8 536.2,182.4 534.3,185.2 535.2,189.0 537.6,190.9 541.9,190.5 544.7,188.1" fill="none"/>
<polyline points="535.2,189.0 534.3,193.8 532.4,197.6 528.5,200.9 525.7,201.4 523.3,206.2 522.8,209.0 525.2,213.3 527.1,210.9 527.6,207.6 530.4,209.0 533.3,206.2 535.2,205.7 534.7,210.0 532.4,212.8 529.5,214.7 530.0,217.6" fill="none"/>
<polygon points="525.7,219.5 531.4,216.6 538.1,212.8 541.9,212.8 542.8,214.7 537.1,217.6 531.4,220.4 526.6,221.9 525.2,220.9" fill="none"/>
<polyline points="537.6,190.9 540.0,195.7 539.0,200.4 541.9,202.8 543.8,198.5 545.7,195.2 547.1,198.5 546.6,206.2 548.5,210.0 549.5,215.7 547.6,219.0 549.0,219.5 551.4,217.6" fill="none"/>
<polyline points="530.4,228.0 534.3,224.2 536.2,220.4 540.9,216.6 541.9,213.8" fill="none"/>
<polyline points="536.6,231.8 537.6,228.5 541.9,226.1 544.7,221.9 543.8,219.5" fill="none"/>
<polyline points="537.6,228.5 542.8,228.0 548.5,227.1 551.4,225.2 549.5,229.0 546.6,234.7 550.4,230.9 553.3,232.8 557.1,232.3 560.9,236.6 562.8,238.5" fill="none"/>
<polyline points="543.3,206.6 544.7,209.0 543.8,211.9" fill="none"/>
<polyline points="528.5,201.4 530.4,204.3 528.5,207.1" fill="none"/>
<polyline points="561.7,231.1 565.1,238.0 574.3,249.4 583.4,262.0 590.2,269.4 593.1,270.2" fill="none"/>
<polyline points="558.3,233.4 562.8,239.1 566.3,246.0 568.0,250.6 567.4,254.0 561.7,256.3 558.8,260.3 557.1,263.1 559.4,264.3 564.5,264.3 568.5,266.5 574.3,266.5 580.0,270.0 585.7,273.4 589.1,276.2 590.8,273.4 593.1,270.2" fill="none"/>
<polygon points="561.1,257.4 564.5,263.7 560.0,263.7" fill="#000"/>
<polyline points="593.1,270.2 597.1,272.0 603.9,268.8 610.8,266.5 613.1,264.3 613.1,261.4 617.6,256.8 618.8,254.0 621.6,254.0 621.1,256.3 619.9,258.0 623.3,261.4 626.8,263.3 631.3,263.1 634.8,260.8 635.9,256.8 639.3,254.0 645.0,252.8 649.6,252.3 655.3,253.4 660.0,256.8" fill="none"/>
<polyline points="568.5,320.0 570.8,314.5 573.1,309.9 577.7,307.6 578.8,304.2 583.4,303.1 586.8,305.9 585.7,301.4 589.1,299.6 587.4,296.2 589.1,292.2 593.7,288.8 599.4,287.1 605.1,288.2 610.8,291.7 615.4,295.1 618.8,299.6 624.5,298.5 629.1,299.4 630.2,296.2 633.6,295.1 639.3,296.8 645.0,297.4 649.6,295.1 654.2,293.9 660.0,293.0" fill="none"/>
<polyline points="458.5,317.6 458.2,323.3 458.5,337.6 453.8,338.9 448.1,342.3 449.0,346.1 453.8,349.9 458.5,351.8 463.3,351.8 466.2,358.5 470.9,358.5 473.8,362.3 481.4,360.4 487.1,361.3 492.8,359.8 499.5,357.9 503.3,350.9 508.0,349.9 513.7,345.2 517.5,338.5 522.3,329.9 529.0,325.2 536.6,322.3 542.3,319.9 551.8,319.1 558.4,316.6 563.2,318.5 566.1,321.4 569.9,317.6 571.8,310.9 577.5,308.1 580.3,303.3 581.7,302.4" fill="none"/>
<polyline points="448.1,342.3 454.7,339.5 461.4,338.9" fill="none"/>
<polyline points="447.7,343.1 454.7,340.2" fill="none"/>
<polyline points="370.0,188.1 379.5,191.9 389.0,194.7 398.5,197.0 406.2,198.5 415.7,199.5 426.1,199.5 425.2,197.6 415.7,196.3 410.9,194.4 406.2,196.6" fill="none"/>
<polyline points="388.1,193.2 394.7,190.6 402.4,189.0 413.8,189.0 422.3,188.1 421.4,184.3 425.2,186.2 429.0,188.1 432.8,184.3 434.7,179.5 435.7,184.3 434.7,189.0 440.4,187.1 442.3,190.9 446.1,191.9 449.9,196.6 454.7,195.7 456.6,190.0 461.3,184.3 465.1,190.9 464.2,196.6 464.2,205.2 473.7,205.2 472.8,209.0 468.0,210.9 468.0,216.6 465.1,211.9 459.4,215.7 453.7,216.6 446.1,220.4 440.4,224.2 434.7,225.2 432.4,221.0 431.3,227.1 427.1,229.4 421.4,231.8 413.8,236.6 409.0,242.3 406.2,245.2 398.5,249.0 390.9,252.8 386.2,257.5 383.3,261.3 385.2,266.1 394.7,269.0 400.4,265.1 408.1,264.2 416.6,264.8 420.4,268.0 425.2,273.7 430.9,280.4 436.6,283.2 439.5,285.7 443.3,282.3 448.0,281.3 454.7,285.1 459.4,290.8 462.3,299.4 463.2,308.9 462.3,315.6 458.5,318.4" fill="none"/>
<polyline points="416.6,264.8 422.3,263.2 429.0,259.4 434.7,256.6 430.9,261.3 425.2,264.2 421.4,268.0" fill="none"/>
<polyline points="441.4,189.0 443.3,192.8" fill="none"/>
<polyline points="433.7,181.4 436.6,188.1" fill="none"/>
<polyline points="300.0,139.4 304.7,140.0 309.5,138.1 316.2,139.0" fill="none"/>
<polyline points="309.5,138.1 310.4,135.2 314.3,132.4 315.2,127.6 311.4,123.8 310.4,119.0" fill="none"/>
<polyline points="315.2,127.6 318.1,123.8 321.9,120.9 321.5,116.7" fill="none"/>
<polyline points="311.4,137.1 315.2,133.3 317.1,127.6" fill="none"/>
<polyline points="316.2,139.0 320.0,136.2 327.6,135.2 337.1,139.0 343.7,137.1 344.7,128.5 341.8,124.7 342.8,118.1 346.6,114.3 349.5,111.8 348.5,116.2 345.7,120.0 346.6,124.7 348.1,128.5 348.5,134.3 353.3,138.1 357.1,139.0 359.9,145.7 365.6,142.8 369.4,141.5 373.2,144.7 372.3,148.5 381.8,151.4 377.1,153.7 371.3,153.3 363.7,150.4 356.1,149.9 350.4,150.4 342.8,147.6 335.2,145.7 327.6,145.3 320.9,145.7 317.1,142.8 316.2,139.0" fill="none"/>
<polygon points="369.4,148.5 374.2,147.6 373.2,153.3 370.4,152.3" fill="#000"/>
<polyline points="316.2,142.8 320.9,147.6 325.7,153.3 329.5,158.0 334.2,162.8" fill="none"/>
<polyline points="329.5,158.0 329.9,153.3 333.3,151.4 342.8,153.3 352.3,156.1 354.2,160.9 350.4,163.7 342.8,165.7 335.2,167.6 332.3,172.3 329.5,176.1" fill="none"/>
<polyline points="320.9,174.6 329.5,177.6 342.8,180.9 356.1,184.7 367.5,187.5 370.0,188.1" fill="none"/>
<polyline points="329.5,176.1 333.3,169.5 342.8,170.4 346.6,172.3 352.3,174.2 356.1,176.1 361.8,181.8 366.6,181.8 367.5,186.6" fill="none"/>
<polyline points="316.5,164.7 316.5,168.5" fill="none"/>
<polyline points="538.5,198.5 540.9,201.4 542.3,199.5" fill="none"/>
<polyline points="531.4,227.1 533.3,226.1 534.7,223.3 537.1,221.9" fill="none"/>
<polyline points="545.7,223.3 547.6,226.1 544.7,228.0" fill="none"/>
<polyline points="528.5,204.3 525.7,208.1 527.1,209.0" fill="none"/>
<polyline points="541.9,202.8 543.3,204.3 542.3,206.6" fill="none"/>
<polygon points="536.6,190.5 538.1,192.4 541.9,191.4" fill="#000"/>
<polygon points="543.3,184.3 545.7,185.2 545.2,187.6" fill="#000"/>
<polygon points="538.5,199.5 540.9,201.9 541.9,200.4" fill="#000"/>
<polygon points="543.3,207.1 545.2,209.0 544.2,211.4" fill="#000"/>
<polygon points="532.4,225.2 534.7,223.3 533.8,227.1" fill="#000"/>
<polygon points="536.6,229.0 539.0,228.0 537.6,231.8" fill="#000"/>
<polygon points="547.6,228.0 549.5,227.1 548.5,230.9" fill="#000"/>
<polygon points="529.5,212.8 531.4,211.9 530.4,214.7" fill="#000"/>
<polygon points="38.5,749.0 41.4,749.9 40.4,752.8 38.2,751.8" fill="#000"/>
<polygon points="42.4,750.9 45.2,751.8 46.2,755.0 43.3,754.3" fill="#000"/>
<polygon points="157.5,714.7 160.3,716.2 160.7,719.5 158.4,718.1" fill="#000"/>
<polygon points="143.2,709.4 146.6,710.5 146.1,711.8 143.6,711.3" fill="#000"/>
<polygon points="108.2,693.4 110.5,694.1 110.9,699.9 109.0,699.1" fill="#000"/>
</g>
<g id="grid" shape-rendering="crispEdges">
<rect x="70" y="0" width="1" height="791" fill="#000"/>
<rect x="280" y="0" width="1" height="791" fill="#000"/>
<rect x="490" y="0" width="1" height="791" fill="#000"/>
<rect x="700" y="0" width="1" height="791" fill="#000"/>
<rect x="910" y="0" width="1" height="791" fill="#000"/>
<rect x="10" y="100" width="1041" height="1" fill="#000"/>
<rect x="10" y="300" width="1041" height="1" fill="#000"/>
<rect x="10" y="500" width="1041" height="1" fill="#000"/>
<rect x="10" y="700" width="1041" height="1" fill="#000"/>
</g>
<g id="legend" shape-rendering="crispEdges">
<rect x="11" y="1" width="90" height="455" fill="#fcfcfc"/>
<rect x="101" y="0" width="1" height="457" fill="#000"/>
<rect x="10" y="456" width="92" height="1" fill="#000"/>
<rect x="39" y="4" width="29" height="450" fill="url(#lg)"/>
<rect x="70" y="4" width="1" height="450" fill="#000"/>
<rect x="70" y="4" width="3" height="1" fill="#000"/>
<rect x="70" y="33" width="5" height="1" fill="#000"/>
<rect x="70" y="63" width="5" height="1" fill="#000"/>
<rect x="70" y="93" width="5" height="1" fill="#000"/>
<rect x="70" y="123" width="5" height="1" fill="#000"/>
<rect x="70" y="153" width="7" height="1" fill="#000"/>
<rect x="70" y="183" width="5" height="1" fill="#000"/>
<rect x="70" y="213" width="5" height="1" fill="#000"/>
<rect x="70" y="243" width="5" height="1" fill="#000"/>
<rect x="70" y="273" width="5" height="1" fill="#000"/>
<rect x="70" y="303" width="7" height="1" fill="#000"/>
<rect x="70" y="333" width="5" height="1" fill="#000"/>
<rect x="70" y="363" width="5" height="1" fill="#000"/>
<rect x="70" y="393" width="5" height="1" fill="#000"/>
<rect x="70" y="423" width="5" height="1" fill="#000"/>
<rect x="70" y="453" width="19" height="1" fill="#000"/>
</g>
<g id="txt" opacity="0.999">
<text transform="translate(31.3,365.5) rotate(-90)" font-size="18.5" textLength="275" lengthAdjust="spacing">Sea Surface Temperature</text>
<text x="80" y="158" font-size="15" font-weight="bold">15</text>
<text x="80" y="308" font-size="15" font-weight="bold">10</text>
<text x="89" y="451" font-size="15" font-weight="bold">5</text>
<text x="82.5" y="22" font-size="23.5" class="serif">C</text>
<text x="77.5" y="13.5" font-size="15" class="serif" font-weight="bold">&#176;</text>
<text x="13.5" y="496" font-size="22" letter-spacing="1">43</text>
<text x="13.5" y="696" font-size="22" letter-spacing="1">41</text>
<text x="74" y="786" font-size="22" letter-spacing="1.2">28</text>
<text x="284" y="786" font-size="22" letter-spacing="1.2">31</text>
<text x="494" y="786" font-size="22" letter-spacing="1.2">34</text>
<text x="704" y="786" font-size="22" letter-spacing="1.2">37</text>
<text x="914" y="786" font-size="22" letter-spacing="1.2">40</text>
<text x="552" y="36" font-size="13.3" font-weight="bold">VIIRS-NPP</text>
<text x="552" y="52" font-size="13.3" font-weight="bold">6 Dec 2025</text>
<text x="552" y="68" font-size="13.3" font-weight="bold">10:12 GMT</text>
<text x="947" y="93.5" font-size="16.5" font-weight="bold" textLength="70" lengthAdjust="spacing">MHI RAS</text>
<text x="160.5" y="90.5" font-size="17" class="sans" textLength="92.5" lengthAdjust="spacing" style="fill:#0000ff">OceanColor</text>
</g>
<g id="logos">
<g transform="translate(165,10) scale(0.081136)">
<circle cx="492" cy="405" r="360" fill="#0000ff"/>
<ellipse cx="497" cy="388" rx="272" ry="118" transform="rotate(50 497 388)" fill="none" stroke="#fff" stroke-width="11"/>
<rect x="469.0" y="74.0" width="12" height="12" fill="#fff"/>
<rect x="419.0" y="97.0" width="12" height="12" fill="#fff"/>
<rect x="494.0" y="97.0" width="12" height="12" fill="#fff"/>
<rect x="543.0" y="86.0" width="24" height="24" fill="#fff"/>
<rect x="531.0" y="134.0" width="12" height="12" fill="#fff"/>
<rect x="344.0" y="199.0" width="12" height="12" fill="#fff"/>
<rect x="369.0" y="209.0" width="12" height="12" fill="#fff"/>
<rect x="209.0" y="591.0" width="12" height="12" fill="#fff"/>
<rect x="234.0" y="579.0" width="12" height="12" fill="#fff"/>
<rect x="259.0" y="591.0" width="12" height="12" fill="#fff"/>
<rect x="334.0" y="639.0" width="12" height="12" fill="#fff"/>
<rect x="369.0" y="627.0" width="12" height="12" fill="#fff"/>
<rect x="369.0" y="654.0" width="12" height="12" fill="#fff"/>
<rect x="368.0" y="688.0" width="24" height="24" fill="#fff"/>
<rect x="519.0" y="614.0" width="12" height="12" fill="#fff"/>
<rect x="638.0" y="541.0" width="14" height="14" fill="#fff"/>
<rect x="709.0" y="584.0" width="12" height="12" fill="#fff"/>
<rect x="753.0" y="528.0" width="24" height="24" fill="#fff"/>
<text x="160" y="490" font-size="236" font-weight="bold" textLength="655" lengthAdjust="spacingAndGlyphs" style="font-family:'Liberation Serif',serif;fill:#fff">NASA</text>
<path d="M60,482 L150,458 L250,425 L330,400 L450,355 L600,290 L700,245 L790,205 L920,122 L925,135 L870,205 L810,265 L750,310 L690,350 L630,395 L560,445 L500,488 L430,540 L330,615 L250,680 L200,722 L185,712 L250,655 L330,588 L430,515 L500,465 L560,425 L620,385 L680,345 L730,305 L660,322 L600,338 L500,378 L450,395 L330,428 L250,452 L150,482 L90,502 L60,500 Z" fill="#ff0000"/>
</g>
<g transform="translate(940,0) scale(0.102459)" fill="none" stroke="#000" stroke-width="10" stroke-linejoin="miter">
<circle cx="395" cy="418" r="345"/>
<polyline points="75,400 245,400 245,218 310,385 350,275 355,275 355,395"/>
<polyline points="345,275 460,275 460,392 490,392 560,232 560,398 715,400"/>
<polyline points="75,400 322,650 345,650 395,600 445,650 470,650 715,400"/>
<polyline points="130,465 358,465"/>
<polyline points="430,465 655,465"/>
<polygon points="130,465 165,465 215,520 250,540 290,515 330,540 385,505 385,610 345,650 322,650" fill="#000" stroke="none"/>
<polygon points="660,465 625,465 575,520 540,540 500,515 460,540 405,505 405,610 445,650 470,650" fill="#000" stroke="none"/>
<polyline points="395,275 395,490"/>
<path d="M210,515 Q235,545 262,522 T310,522 T358,522 L390,495" stroke="#fff" stroke-width="7"/>
<path d="M580,515 Q555,545 528,522 T480,522 T432,522 L400,495" stroke="#fff" stroke-width="7"/>
<path d="M205,500 Q235,530 262,508 T310,508 T358,508 L392,485" stroke="#000" stroke-width="7"/>
<path d="M585,500 Q555,530 528,508 T480,508 T432,508 L398,485" stroke="#000" stroke-width="7"/>
<polyline points="395,500 395,605" stroke="#fff" stroke-width="11"/>
</g>
</g>
<g id="rulers" shape-rendering="crispEdges">
<rect x="0" y="0" width="11" height="801" fill="#fff"/>
<rect x="0" y="790" width="1051" height="11" fill="#fff"/>
<rect x="0" y="0" width="1051" height="1" fill="#000"/>
<rect x="1050" y="0" width="1" height="801" fill="#000"/>
<rect x="0" y="0" width="1" height="801" fill="#000"/>
<rect x="0" y="800" width="1051" height="1" fill="#000"/>
<rect x="10" y="0" width="1" height="795" fill="#000"/>
<rect x="5" y="0" width="1" height="791" fill="#000"/>
<rect x="0" y="790" width="1051" height="1" fill="#000"/>
<rect x="10" y="795" width="1041" height="1" fill="#000"/>
<rect x="0" y="0" width="6" height="101" fill="#000"/>
<rect x="0" y="200" width="6" height="101" fill="#000"/>
<rect x="0" y="400" width="6" height="101" fill="#000"/>
<rect x="0" y="600" width="6" height="101" fill="#000"/>
<rect x="0" y="100" width="11" height="1" fill="#000"/>
<rect x="0" y="200" width="11" height="1" fill="#000"/>
<rect x="0" y="300" width="11" height="1" fill="#000"/>
<rect x="0" y="400" width="11" height="1" fill="#000"/>
<rect x="0" y="500" width="11" height="1" fill="#000"/>
<rect x="0" y="600" width="11" height="1" fill="#000"/>
<rect x="0" y="700" width="11" height="1" fill="#000"/>
<rect x="6" y="0" width="4" height="1" fill="#000"/>
<rect x="6" y="17" width="4" height="1" fill="#000"/>
<rect x="6" y="33" width="4" height="1" fill="#000"/>
<rect x="6" y="50" width="4" height="1" fill="#000"/>
<rect x="6" y="67" width="4" height="1" fill="#000"/>
<rect x="6" y="83" width="4" height="1" fill="#000"/>
<rect x="6" y="100" width="4" height="1" fill="#000"/>
<rect x="6" y="117" width="4" height="1" fill="#000"/>
<rect x="6" y="133" width="4" height="1" fill="#000"/>
<rect x="6" y="150" width="4" height="1" fill="#000"/>
<rect x="6" y="167" width="4" height="1" fill="#000"/>
<rect x="6" y="183" width="4" height="1" fill="#000"/>
<rect x="6" y="200" width="4" height="1" fill="#000"/>
<rect x="6" y="217" width="4" height="1" fill="#000"/>
<rect x="6" y="233" width="4" height="1" fill="#000"/>
<rect x="6" y="250" width="4" height="1" fill="#000"/>
<rect x="6" y="267" width="4" height="1" fill="#000"/>
<rect x="6" y="283" width="4" height="1" fill="#000"/>
<rect x="6" y="300" width="4" height="1" fill="#000"/>
<rect x="6" y="317" width="4" height="1" fill="#000"/>
<rect x="6" y="333" width="4" height="1" fill="#000"/>
<rect x="6" y="350" width="4" height="1" fill="#000"/>
<rect x="6" y="367" width="4" height="1" fill="#000"/>
<rect x="6" y="383" width="4" height="1" fill="#000"/>
<rect x="6" y="400" width="4" height="1" fill="#000"/>
<rect x="6" y="417" width="4" height="1" fill="#000"/>
<rect x="6" y="433" width="4" height="1" fill="#000"/>
<rect x="6" y="450" width="4" height="1" fill="#000"/>
<rect x="6" y="467" width="4" height="1" fill="#000"/>
<rect x="6" y="483" width="4" height="1" fill="#000"/>
<rect x="6" y="500" width="4" height="1" fill="#000"/>
<rect x="6" y="517" width="4" height="1" fill="#000"/>
<rect x="6" y="533" width="4" height="1" fill="#000"/>
<rect x="6" y="550" width="4" height="1" fill="#000"/>
<rect x="6" y="567" width="4" height="1" fill="#000"/>
<rect x="6" y="583" width="4" height="1" fill="#000"/>
<rect x="6" y="600" width="4" height="1" fill="#000"/>
<rect x="6" y="617" width="4" height="1" fill="#000"/>
<rect x="6" y="633" width="4" height="1" fill="#000"/>
<rect x="6" y="650" width="4" height="1" fill="#000"/>
<rect x="6" y="667" width="4" height="1" fill="#000"/>
<rect x="6" y="683" width="4" height="1" fill="#000"/>
<rect x="6" y="700" width="4" height="1" fill="#000"/>
<rect x="6" y="717" width="4" height="1" fill="#000"/>
<rect x="6" y="733" width="4" height="1" fill="#000"/>
<rect x="6" y="750" width="4" height="1" fill="#000"/>
<rect x="6" y="767" width="4" height="1" fill="#000"/>
<rect x="6" y="783" width="4" height="1" fill="#000"/>
<rect x="10" y="795" width="61" height="6" fill="#000"/>
<rect x="140" y="795" width="71" height="6" fill="#000"/>
<rect x="280" y="795" width="71" height="6" fill="#000"/>
<rect x="420" y="795" width="71" height="6" fill="#000"/>
<rect x="560" y="795" width="71" height="6" fill="#000"/>
<rect x="700" y="795" width="71" height="6" fill="#000"/>
<rect x="840" y="795" width="71" height="6" fill="#000"/>
<rect x="980" y="795" width="71" height="6" fill="#000"/>
<rect x="70" y="790" width="1" height="11" fill="#000"/>
<rect x="140" y="790" width="1" height="11" fill="#000"/>
<rect x="210" y="790" width="1" height="11" fill="#000"/>
<rect x="280" y="790" width="1" height="11" fill="#000"/>
<rect x="350" y="790" width="1" height="11" fill="#000"/>
<rect x="420" y="790" width="1" height="11" fill="#000"/>
<rect x="490" y="790" width="1" height="11" fill="#000"/>
<rect x="560" y="790" width="1" height="11" fill="#000"/>
<rect x="630" y="790" width="1" height="11" fill="#000"/>
<rect x="700" y="790" width="1" height="11" fill="#000"/>
<rect x="770" y="790" width="1" height="11" fill="#000"/>
<rect x="840" y="790" width="1" height="11" fill="#000"/>
<rect x="910" y="790" width="1" height="11" fill="#000"/>
<rect x="980" y="790" width="1" height="11" fill="#000"/>
<rect x="12" y="791" width="1" height="4" fill="#000"/>
<rect x="23" y="791" width="1" height="4" fill="#000"/>
<rect x="35" y="791" width="1" height="4" fill="#000"/>
<rect x="47" y="791" width="1" height="4" fill="#000"/>
<rect x="58" y="791" width="1" height="4" fill="#000"/>
<rect x="70" y="791" width="1" height="4" fill="#000"/>
<rect x="82" y="791" width="1" height="4" fill="#000"/>
<rect x="93" y="791" width="1" height="4" fill="#000"/>
<rect x="105" y="791" width="1" height="4" fill="#000"/>
<rect x="117" y="791" width="1" height="4" fill="#000"/>
<rect x="128" y="791" width="1" height="4" fill="#000"/>
<rect x="140" y="791" width="1" height="4" fill="#000"/>
<rect x="152" y="791" width="1" height="4" fill="#000"/>
<rect x="163" y="791" width="1" height="4" fill="#000"/>
<rect x="175" y="791" width="1" height="4" fill="#000"/>
<rect x="187" y="791" width="1" height="4" fill="#000"/>
<rect x="198" y="791" width="1" height="4" fill="#000"/>
<rect x="210" y="791" width="1" height="4" fill="#000"/>
<rect x="222" y="791" width="1" height="4" fill="#000"/>
<rect x="233" y="791" width="1" height="4" fill="#000"/>
<rect x="245" y="791" width="1" height="4" fill="#000"/>
<rect x="257" y="791" width="1" height="4" fill="#000"/>
<rect x="268" y="791" width="1" height="4" fill="#000"/>
<rect x="280" y="791" width="1" height="4" fill="#000"/>
<rect x="292" y="791" width="1" height="4" fill="#000"/>
<rect x="303" y="791" width="1" height="4" fill="#000"/>
<rect x="315" y="791" width="1" height="4" fill="#000"/>
<rect x="327" y="791" width="1" height="4" fill="#000"/>
<rect x="338" y="791" width="1" height="4" fill="#000"/>
<rect x="350" y="791" width="1" height="4" fill="#000"/>
<rect x="362" y="791" width="1" height="4" fill="#000"/>
<rect x="373" y="791" width="1" height="4" fill="#000"/>
<rect x="385" y="791" width="1" height="4" fill="#000"/>
<rect x="397" y="791" width="1" height="4" fill="#000"/>
<rect x="408" y="791" width="1" height="4" fill="#000"/>
<rect x="420" y="791" width="1" height="4" fill="#000"/>
<rect x="432" y="791" width="1" height="4" fill="#000"/>
<rect x="443" y="791" width="1" height="4" fill="#000"/>
<rect x="455" y="791" width="1" height="4" fill="#000"/>
<rect x="467" y="791" width="1" height="4" fill="#000"/>
<rect x="478" y="791" width="1" height="4" fill="#000"/>
<rect x="490" y="791" width="1" height="4" fill="#000"/>
<rect x="502" y="791" width="1" height="4" fill="#000"/>
<rect x="513" y="791" width="1" height="4" fill="#000"/>
<rect x="525" y="791" width="1" height="4" fill="#000"/>
<rect x="537" y="791" width="1" height="4" fill="#000"/>
<rect x="548" y="791" width="1" height="4" fill="#000"/>
<rect x="560" y="791" width="1" height="4" fill="#000"/>
<rect x="572" y="791" width="1" height="4" fill="#000"/>
<rect x="583" y="791" width="1" height="4" fill="#000"/>
<rect x="595" y="791" width="1" height="4" fill="#000"/>
<rect x="607" y="791" width="1" height="4" fill="#000"/>
<rect x="618" y="791" width="1" height="4" fill="#000"/>
<rect x="630" y="791" width="1" height="4" fill="#000"/>
<rect x="642" y="791" width="1" height="4" fill="#000"/>
<rect x="653" y="791" width="1" height="4" fill="#000"/>
<rect x="665" y="791" width="1" height="4" fill="#000"/>
<rect x="677" y="791" width="1" height="4" fill="#000"/>
<rect x="688" y="791" width="1" height="4" fill="#000"/>
<rect x="700" y="791" width="1" height="4" fill="#000"/>
<rect x="712" y="791" width="1" height="4" fill="#000"/>
<rect x="723" y="791" width="1" height="4" fill="#000"/>
<rect x="735" y="791" width="1" height="4" fill="#000"/>
<rect x="747" y="791" width="1" height="4" fill="#000"/>
<rect x="758" y="791" width="1" height="4" fill="#000"/>
<rect x="770" y="791" width="1" height="4" fill="#000"/>
<rect x="782" y="791" width="1" height="4" fill="#000"/>
<rect x="793" y="791" width="1" height="4" fill="#000"/>
<rect x="805" y="791" width="1" height="4" fill="#000"/>
<rect x="817" y="791" width="1" height="4" fill="#000"/>
<rect x="828" y="791" width="1" height="4" fill="#000"/>
<rect x="840" y="791" width="1" height="4" fill="#000"/>
<rect x="852" y="791" width="1" height="4" fill="#000"/>
<rect x="863" y="791" width="1" height="4" fill="#000"/>
<rect x="875" y="791" width="1" height="4" fill="#000"/>
<rect x="887" y="791" width="1" height="4" fill="#000"/>
<rect x="898" y="791" width="1" height="4" fill="#000"/>
<rect x="910" y="791" width="1" height="4" fill="#000"/>
<rect x="922" y="791" width="1" height="4" fill="#000"/>
<rect x="933" y="791" width="1" height="4" fill="#000"/>
<rect x="945" y="791" width="1" height="4" fill="#000"/>
<rect x="957" y="791" width="1" height="4" fill="#000"/>
<rect x="968" y="791" width="1" height="4" fill="#000"/>
<rect x="980" y="791" width="1" height="4" fill="#000"/>
<rect x="992" y="791" width="1" height="4" fill="#000"/>
<rect x="1003" y="791" width="1" height="4" fill="#000"/>
<rect x="1015" y="791" width="1" height="4" fill="#000"/>
<rect x="1027" y="791" width="1" height="4" fill="#000"/>
<rect x="1038" y="791" width="1" height="4" fill="#000"/>
</g>
</svg>
</body></html>
